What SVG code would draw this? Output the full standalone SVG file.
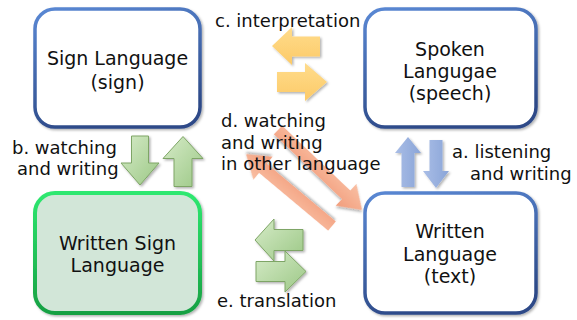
<svg xmlns="http://www.w3.org/2000/svg" width="577" height="320" viewBox="0 0 577 320">
<defs>
<linearGradient id="blueStroke" x1="0" y1="0" x2="0.3" y2="1"><stop offset="0" stop-color="#5a88d4"/><stop offset="1" stop-color="#2d4a88"/></linearGradient>
<linearGradient id="greenStroke" x1="0" y1="0" x2="0" y2="1"><stop offset="0" stop-color="#2ee870"/><stop offset="1" stop-color="#17a043"/></linearGradient>
<linearGradient id="gArrow" x1="0" y1="0" x2="1" y2="1"><stop offset="0" stop-color="#d6ebc8"/><stop offset="1" stop-color="#9cc886"/></linearGradient>
<linearGradient id="oArrow" x1="0" y1="0" x2="0" y2="1"><stop offset="0" stop-color="#ffdc8c"/><stop offset="1" stop-color="#fcca68"/></linearGradient>
<linearGradient id="bArrow" x1="0" y1="0" x2="1" y2="0"><stop offset="0" stop-color="#a9bde6"/><stop offset="1" stop-color="#8aa5d8"/></linearGradient>
<linearGradient id="sArrow" x1="0" y1="0" x2="0" y2="1"><stop offset="0" stop-color="#f9bfa3"/><stop offset="1" stop-color="#f29d7c"/></linearGradient>
<filter id="sh" x="-10%" y="-10%" width="130%" height="130%"><feDropShadow dx="1.5" dy="1.5" stdDeviation="1.2" flood-color="#000" flood-opacity="0.3"/></filter>
</defs>
<style>
.box{stroke-width:3.5;filter:url(#sh)}
.blue{fill:#fff;stroke:url(#blueStroke)}
.green{fill:#d2e6d8;stroke:url(#greenStroke);stroke-width:4}
text{font-family:"DejaVu Sans","Liberation Sans",sans-serif;fill:#111}
.bt{font-size:19px;text-anchor:middle}
.lb{font-size:18px}
.ga{fill:url(#gArrow);stroke:#7ea566;stroke-width:1;filter:url(#sh)}
.oa{fill:url(#oArrow);filter:url(#sh)}
.ba{fill:url(#bArrow);filter:url(#sh)}
.sa{fill:url(#sArrow);filter:url(#sh)}
</style>
<g id="sign-language"><rect class="box blue" x="35" y="9" width="165" height="118" rx="20"/><text class="bt" x="117.5" y="65">Sign Language</text><text class="bt" x="117.5" y="89">(sign)</text></g>
<g id="spoken-language"><rect class="box blue" x="365" y="9" width="171" height="118" rx="20"/><text class="bt" x="450" y="56">Spoken</text><text class="bt" x="450" y="78">Langugae</text><text class="bt" x="450" y="100">(speech)</text></g>
<g id="written-sign-language"><rect class="box green" x="35" y="193" width="165" height="120" rx="20"/><text class="bt" x="117.5" y="250">Written Sign</text><text class="bt" x="117.5" y="272">Language</text></g>
<g id="written-language"><rect class="box blue" x="365" y="193" width="171" height="120" rx="20"/><text class="bt" x="450" y="238">Written</text><text class="bt" x="450" y="261">Language</text><text class="bt" x="450" y="283">(text)</text></g>
<g id="connectors">
<polygon class="oa" points="272,46 292,27 292,36.5 320,36.5 320,56.5 292,56.5 292,65"/>
<polygon class="oa" points="277,72 305,72 305,63 327,82 305,101 305,92 277,92"/>
<polygon class="ga" points="131.5,136 148.5,136 148.5,163 159,163 140,185 121,163 131.5,163"/>
<polygon class="ga" points="183,136.5 203,158.5 192,158.5 192,186.5 174,186.5 174,158.5 163,158.5"/>
<polygon class="ba" points="408,137 421,153 414.5,153 414.5,187 401.5,187 401.5,153 395,153"/>
<polygon class="ba" points="429.5,140 442.5,140 442.5,171 449,171 436,188 423,171 429.5,171"/>
<polygon class="sa" transform="translate(278,130) rotate(43.6)" points="0,-6 94,-6 94,-15 116,0 94,15 94,6 0,6"/>
<polygon class="sa" transform="translate(332,226) rotate(219.9)" points="0,-6 90,-6 90,-15 112,0 90,15 90,6 0,6"/>
<polygon class="ga" points="255,240 274,219 274,229.5 303,229.5 303,250.5 274,250.5 274,261"/>
<polygon class="ga" points="256,261.5 285,261.5 285,251 306,271.5 285,292 285,281.5 256,281.5"/>
</g>
<g id="labels">
<text class="lb" x="215" y="27">c. interpretation</text>
<text class="lb" x="221" y="127">d. watching</text>
<text class="lb" x="221" y="149">and writing</text>
<text class="lb" x="221" y="170">in other language</text>
<text class="lb" x="12" y="154">b. watching</text>
<text class="lb" x="17" y="175">and writing</text>
<text class="lb" x="452" y="158">a. listening</text>
<text class="lb" x="470" y="180">and writing</text>
<text class="lb" x="217" y="307">e. translation</text>
</g>
</svg>
